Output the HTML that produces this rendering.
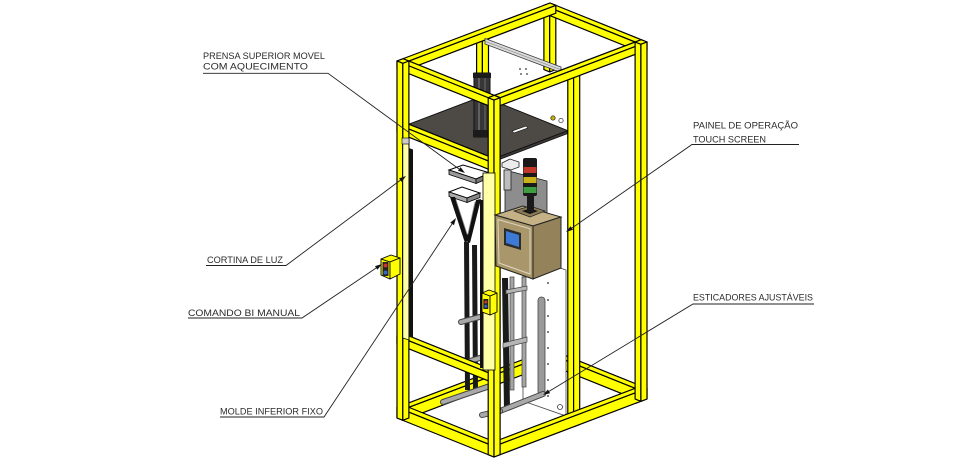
<!DOCTYPE html>
<html>
<head>
<meta charset="utf-8">
<style>
  html,body{margin:0;padding:0;background:#fff;}
  svg{display:block;}
  text{font-family:"Liberation Sans",sans-serif;font-size:9.5px;fill:#2b2b2b;}
</style>
</head>
<body>
<svg width="967" height="464" viewBox="0 0 967 464" xmlns="http://www.w3.org/2000/svg">
<rect width="967" height="464" fill="#fff"/>

<!-- FAR FRAME PARTS -->
<g stroke="#000" stroke-width="1.2" stroke-linejoin="round" fill="#ffff00">
  <polygon points="549.7,71.9 543.9,69.6 543.9,13.2 549.7,15.5"/>
  <polygon points="549.7,71.9 555.8,69.6 555.8,13.2 549.7,15.5"/>
  <polygon points="482.4,104.5 476.6,102.2 476.6,38.7 482.4,41"/>
  <polygon points="482.4,104.5 488.5,102.2 488.5,38.7 482.4,41"/>
  <polygon points="640.9,52.2 543.9,13.2 543.9,5.3 640.9,44.3"/>
  <polygon points="640.9,44.3 543.9,5.3 550,3 647,42"/>
  <polygon points="402.8,71.2 555.8,13.2 555.8,5.3 402.8,63.3"/>
  <polygon points="402.8,63.3 555.8,5.3 550,3 397,61"/>
  <polygon points="640.9,401.3 543.9,362.3 543.9,351.6 640.9,390.6"/>
  <polygon points="640.9,390.6 543.9,351.6 550,349.3 647,388.3"/>
  <polygon points="402.8,420.3 555.8,362.3 555.8,351.6 402.8,409.6"/>
  <polygon points="402.8,409.6 555.8,351.6 550,349.3 397,407.3"/>
</g>

<!-- top gray cross rail -->
<polygon points="485,38.5 561,67 561,72.5 485,44" fill="#dadada" stroke="#333" stroke-width="0.8"/>
<line x1="485" y1="41.3" x2="561" y2="69.8" stroke="#888" stroke-width="0.6"/>
<circle cx="520" cy="69" r="0.9" fill="#333"/><circle cx="526" cy="69" r="0.9" fill="#333"/>
<circle cx="521" cy="74" r="0.9" fill="#333"/><circle cx="527" cy="74" r="0.9" fill="#333"/>

<!-- plate -->
<polygon points="408.9,124.2 482.4,96.3 567.8,130.7 494.3,158.6" fill="#4d4a46" stroke="#111" stroke-width="1"/>
<polygon points="408.9,124.2 494.3,158.6 494.3,161.4 408.9,127" fill="#6a6762" stroke="#111" stroke-width="0.8"/>
<polygon points="494.3,158.6 567.8,130.7 567.8,133.5 494.3,161.4" fill="#3a3835" stroke="#111" stroke-width="0.8"/>
<polygon points="512,131 526,126 528,128 514,133" fill="#fff" stroke="#222" stroke-width="0.7"/>
<circle cx="553" cy="118" r="2.2" fill="#c8b000" stroke="#222" stroke-width="0.7"/>
<circle cx="561" cy="120.5" r="2.2" fill="#fff" stroke="#222" stroke-width="0.7"/>

<!-- actuator -->
<rect x="474" y="73" width="16" height="64" fill="#363636" stroke="#111" stroke-width="1"/>
<line x1="479" y1="76" x2="479" y2="134" stroke="#8a8a8a" stroke-width="1"/>
<line x1="485" y1="76" x2="485" y2="134" stroke="#6e6e6e" stroke-width="1"/>
<rect x="473" y="73" width="18" height="5" fill="#1b1b1b"/>
<rect x="473" y="130" width="18" height="7" fill="#1b1b1b"/>

<!-- back white panel with dots -->
<polygon points="523,255 566,270 566,416 523,401" fill="#fff" stroke="#444" stroke-width="0.8"/>
<g fill="#555">
  <circle cx="548" cy="283" r="1"/><circle cx="548" cy="300" r="1"/><circle cx="548" cy="316" r="1"/>
  <circle cx="548" cy="332" r="1"/><circle cx="548" cy="348" r="1"/><circle cx="548" cy="364" r="1"/>
  <circle cx="548" cy="380" r="1"/><circle cx="548" cy="396" r="1"/>
</g>
<circle cx="560" cy="407" r="2.5" fill="#fff" stroke="#333" stroke-width="0.8"/>

<!-- gray panel behind tower -->
<polygon points="505,170 547,181 547,214 505,214" fill="#8d8d8d" stroke="#222" stroke-width="0.8"/>

<!-- brackets under plate -->
<polygon points="502,163 510,159 519,162 519,167 511,170 502,167" fill="#ececec" stroke="#222" stroke-width="0.8"/>
<rect x="504" y="170" width="7" height="20" fill="#bdbdbd" stroke="#222" stroke-width="0.8"/>

<!-- upper mold -->
<polygon points="449,170 463,165 490,173 476,179" fill="#fff" stroke="#000" stroke-width="1"/>
<polygon points="449,170 476,179 476,183.5 449,174.5" fill="#9a9a9a" stroke="#000" stroke-width="0.8"/>
<polygon points="476,179 490,173 490,177.5 476,183.5" fill="#777" stroke="#000" stroke-width="0.8"/>

<!-- lower mold holder -->
<polygon points="449,192 462,187 480,193 467,198" fill="#fff" stroke="#000" stroke-width="1"/>
<polygon points="449,192 467,198 467,202.5 449,196.5" fill="#aaa" stroke="#000" stroke-width="0.8"/>
<polygon points="467,198 480,193 480,197.5 467,202.5" fill="#888" stroke="#000" stroke-width="0.8"/>
<polygon points="450,197 455,197 469,240 465,243" fill="#111"/>
<polygon points="476,200 481,199 470,243 466,241" fill="#111"/>
<line x1="456" y1="200" x2="467" y2="234" stroke="#888" stroke-width="0.8"/>
<line x1="475" y1="202" x2="468" y2="234" stroke="#888" stroke-width="0.8"/>

<!-- black support bars -->
<polygon points="464,242 469,242 470,390 465,390" fill="#1a1a1a"/>
<polygon points="472,245 477,245 478,392 473,392" fill="#1a1a1a"/>
<polygon points="502,278 508,278 510,410 504,410" fill="#1a1a1a"/>

<!-- ladder -->
<rect x="510" y="277" width="4" height="113" fill="#a5a5a5" stroke="#444" stroke-width="0.7"/>
<rect x="522" y="277" width="4" height="110" fill="#a5a5a5" stroke="#444" stroke-width="0.7"/>
<polygon points="506,290 527,286 527,290 506,294" fill="#b5b5b5" stroke="#444" stroke-width="0.7"/>
<polygon points="503,343 527,337 527,342 503,348" fill="#b5b5b5" stroke="#444" stroke-width="0.7"/>

<!-- U loop -->
<rect x="538" y="297" width="7" height="98" rx="3.5" fill="#9a9a9a" stroke="#444" stroke-width="0.8"/>

<!-- rods -->
<g stroke-linecap="round">
  <line x1="461" y1="322" x2="487" y2="315" stroke="#444" stroke-width="6"/>
  <line x1="461" y1="322" x2="487" y2="315" stroke="#a9a9a9" stroke-width="4"/>
  <line x1="443" y1="402" x2="490" y2="386" stroke="#444" stroke-width="6"/>
  <line x1="443" y1="402" x2="490" y2="386" stroke="#a9a9a9" stroke-width="4"/>
  <line x1="500" y1="411" x2="543" y2="394" stroke="#444" stroke-width="6"/>
  <line x1="500" y1="411" x2="543" y2="394" stroke="#a9a9a9" stroke-width="4"/>
  <line x1="482" y1="415" x2="500" y2="411" stroke="#444" stroke-width="6"/>
  <line x1="482" y1="415" x2="500" y2="411" stroke="#a9a9a9" stroke-width="4"/>
  <line x1="467" y1="362" x2="483" y2="357" stroke="#444" stroke-width="6"/>
  <line x1="467" y1="362" x2="483" y2="357" stroke="#a9a9a9" stroke-width="4"/>
</g>

<!-- FRONT-RIGHT FACE -->
<g stroke="#000" stroke-width="1.2" stroke-linejoin="round" fill="#ffff00">
  <polygon points="573.6,426.8 567.8,424.5 567.8,67.5 573.6,69.8"/>
  <polygon points="573.6,426.8 579.7,424.5 579.7,67.5 573.6,69.8"/>
  <polygon points="494,107.9 647,49.9 647,42 494,100"/>
  <polygon points="494,100 647,42 641.2,39.7 488.2,97.7"/>
  <polygon points="494,457 647,399 647,388.3 494,446.3"/>
  <polygon points="494,446.3 647,388.3 641.2,386 488.2,444"/>
  <polygon points="640.9,401.3 635.1,399 635.1,42 640.9,44.3"/>
  <polygon points="640.9,401.3 647,399 647,42 640.9,44.3"/>
</g>

<!-- FRONT-LEFT FACE -->
<g stroke="#000" stroke-width="1.2" stroke-linejoin="round" fill="#ffff00">
  <polygon points="494,107.9 397,68.9 397,61 494,100"/>
  <polygon points="494,100 397,61 403.1,58.7 500.1,97.7"/>
  <polygon points="494,171.4 397,132.4 397,124.2 494,163.2"/>
  <polygon points="494,163.2 397,124.2 403.1,121.9 500.1,160.9"/>
  <polygon points="494,383.1 397,344.1 397,335.9 494,374.9"/>
  <polygon points="494,374.9 397,335.9 403.1,333.6 500.1,372.6"/>
  <polygon points="494,457 397,418 397,407.3 494,446.3"/>
  <polygon points="494,446.3 397,407.3 403.1,405 500.1,444"/>
  <polygon points="402.8,420.3 397,418 397,61 402.8,63.3"/>
  <polygon points="402.8,420.3 408.9,418 408.9,61 402.8,63.3"/>
</g>

<!-- light curtain emitter -->
<polygon points="402.8,142 408.9,144 408.9,340 402.8,338" fill="#ffffa6" stroke="#000" stroke-width="0.8"/>
<polygon points="408.9,148 413,149.5 413,338 408.9,336.5" fill="#111"/>
<rect x="402" y="138" width="7" height="6" fill="#ccc" stroke="#000" stroke-width="0.6"/>

<!-- NEAR COLUMN -->
<g stroke="#000" stroke-width="1.2" stroke-linejoin="round" fill="#ffff00">
  <polygon points="488.2,454.7 494,457 494,100 488.2,97.7"/>
  <polygon points="494,457 500.1,454.7 500.1,97.7 494,100"/>
  <polygon points="494,100 488.2,97.7 494.3,95.3 500.1,97.7"/>
</g>

<!-- receiver -->
<rect x="483" y="173" width="12" height="197" fill="#ffffa6" stroke="#000" stroke-width="0.8"/>
<rect x="480" y="200" width="3.5" height="168" fill="#111"/>

<!-- yellow box on near column -->
<g stroke="#000" stroke-width="0.9" stroke-linejoin="round" fill="#ffff00">
  <polygon points="482,293 490,296 490,315 482,312"/>
  <polygon points="490,296 497,293 497,312 490,315"/>
  <polygon points="482,293 489,290 497,293 490,296"/>
</g>
<rect x="483.3" y="299" width="5" height="10" fill="#222"/>
<circle cx="485.8" cy="302" r="1.5" fill="#c33"/>
<circle cx="485.8" cy="306.3" r="1.5" fill="#36c"/>

<!-- control box -->
<polygon points="495,215 523,206 561,217 533,226" fill="#c4b286" stroke="#222" stroke-width="1"/>
<polygon points="495,215 533,226 533,279 496,266" fill="#a9976b" stroke="#222" stroke-width="1"/>
<polygon points="533,226 561,217 561,268 533,279" fill="#94835a" stroke="#222" stroke-width="1"/>
<polygon points="498,219.5 530,228.8 530,274 499,263" fill="none" stroke="#ddd6c0" stroke-width="1"/>
<polygon points="504,228 521,233 521,250 504,245" fill="#2b2b2b"/>
<polygon points="506,231 519,235 519,247 506,243" fill="#3d7ad6"/>
<polygon points="514,211 530,206 545,211 530,217" fill="#8a7a55" stroke="#222" stroke-width="0.7"/>
<polygon points="522,211 530,208.5 538,211 530,214" fill="#111"/>

<!-- signal tower -->
<rect x="527" y="195" width="7" height="17" fill="#1a1a1a"/>
<rect x="523" y="158" width="14" height="38" rx="2" fill="#1a1a1a"/>
<rect x="523.5" y="167" width="13" height="6" fill="#c0392b"/>
<rect x="523.5" y="177" width="13" height="6" fill="#c9b21a"/>
<rect x="523.5" y="187" width="13" height="6" fill="#3f9e3f"/>

<!-- comando bi manual box -->
<g stroke="#000" stroke-width="0.9" stroke-linejoin="round" fill="#ffff00">
  <polygon points="381,259 391,255 400,258 390,262"/>
  <polygon points="381,259 390,262 390,279 381,275"/>
  <polygon points="390,262 400,258 400,274 390,279"/>
</g>
<rect x="382.5" y="262" width="6" height="14" fill="#222"/>
<circle cx="385.5" cy="265.5" r="2" fill="#c33"/>
<circle cx="385.5" cy="272.5" r="2" fill="#36c"/>

<!-- LEADERS -->
<g stroke="#222" stroke-width="0.9" fill="none">
  <polyline points="203,73.3 328,73.3 461,170.5"/>
  <polyline points="206,265.5 286,265.5 402,179"/>
  <polyline points="188,318 302,318 378,266.8"/>
  <polyline points="220,417 324,417 453.5,221.8"/>
  <polyline points="799,144.5 692,144.5 569.5,229.7"/>
  <polyline points="814,304 693,304 546.5,392.9"/>
</g>
<g fill="#111">
  <polygon points="465,173 458,170.7 460.6,167.1"/>
  <polygon points="406,176 401.7,181.9 399.1,178.4"/>
  <polygon points="382,264 377.4,269.7 375,266.1"/>
  <polygon points="456,218 454,225.1 450.3,222.6"/>
  <polygon points="566,232 570.5,226.2 573,229.8"/>
  <polygon points="543,395 547.9,389.5 550.1,393.3"/>
</g>

<!-- LABELS -->
<text x="203" y="59" textLength="122" lengthAdjust="spacingAndGlyphs">PRENSA SUPERIOR MOVEL</text>
<text x="203" y="69.3" textLength="105" lengthAdjust="spacingAndGlyphs">COM AQUECIMENTO</text>
<text x="207" y="263" textLength="76" lengthAdjust="spacingAndGlyphs">CORTINA DE LUZ</text>
<text x="188" y="316" textLength="112" lengthAdjust="spacingAndGlyphs">COMANDO BI MANUAL</text>
<text x="220" y="414.3" textLength="103" lengthAdjust="spacingAndGlyphs">MOLDE INFERIOR FIXO</text>
<text x="693" y="128.3" textLength="105" lengthAdjust="spacingAndGlyphs">PAINEL DE OPERAÇÃO</text>
<text x="693" y="142.5" textLength="73" lengthAdjust="spacingAndGlyphs">TOUCH SCREEN</text>
<text x="693" y="300.5" textLength="120" lengthAdjust="spacingAndGlyphs">ESTICADORES AJUSTÁVEIS</text>
</svg>
</body>
</html>
